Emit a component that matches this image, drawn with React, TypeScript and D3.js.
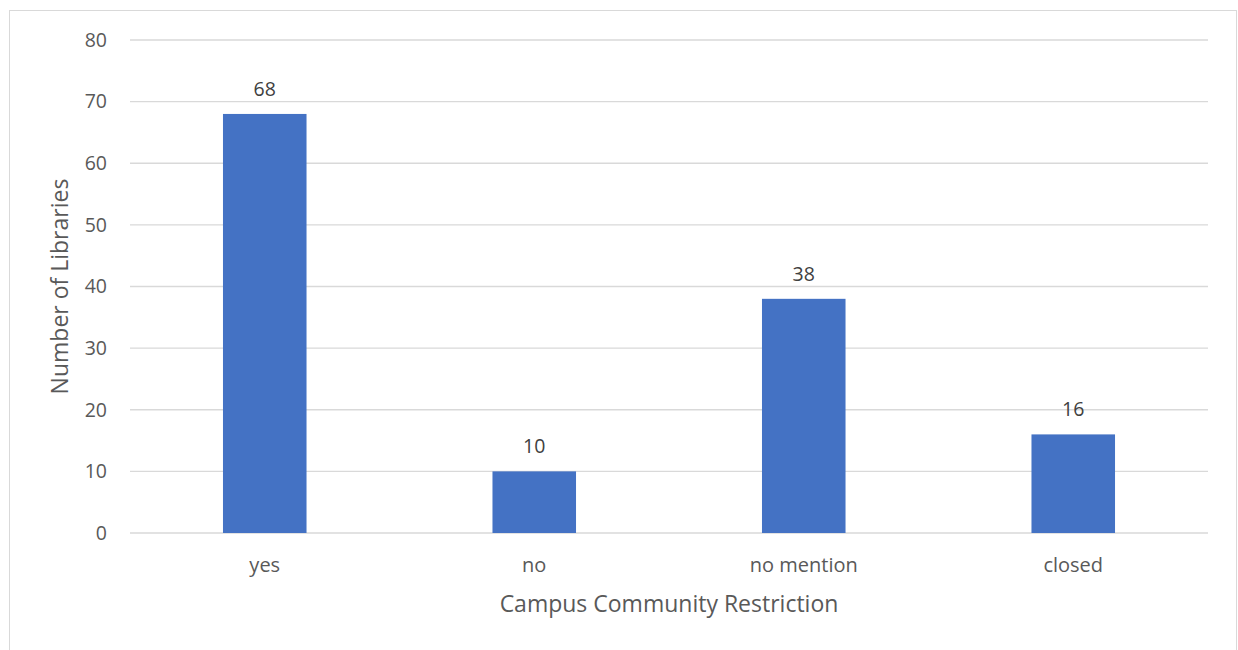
import React from "react";
import * as d3 from "d3";

const categories: string[] = ["yes", "no", "no mention", "closed"];
const libraryCounts: number[] = [68, 10, 38, 16];
const yTicks: number[] = [0, 10, 20, 30, 40, 50, 60, 70, 80];
const xTitle = "Campus Community Restriction";
const yTitle = "Number of Libraries";

const W = 1238;
const H = 650;
const plot = { left: 130, right: 1208, top: 40, bottom: 533 };
const font = "'Open Sans', Calibri, sans-serif";
const textColor = "#595959";

export default function App() {
  const x = d3
    .scaleBand<string>()
    .domain(categories)
    .range([plot.left, plot.right])
    .paddingInner(0.69)
    .paddingOuter(0.345);
  const y = d3.scaleLinear().domain([0, 80]).range([plot.bottom, plot.top]);

  return (
    <svg
      width={W}
      height={H}
      style={{ position: "absolute", left: 0, top: 0, background: "#fff" }}
    >
      <rect x={9.5} y={10.5} width={1227} height={660} fill="#fff" stroke="#d9d9d9" strokeWidth={1} />
      {yTicks.map((t) => (
        <g key={t}>
          <line x1={plot.left} x2={plot.right} y1={y(t)} y2={y(t)} stroke="#d9d9d9" strokeWidth={1.3} />
          <text
            x={107}
            y={y(t)}
            dy="0.35em"
            textAnchor="end"
            fontFamily={font}
            fontSize={19.5}
            fill={textColor}
          >
            {t}
          </text>
        </g>
      ))}
      {categories.map((c, i) => {
        const bx = x(c)!;
        const bw = x.bandwidth();
        const v = libraryCounts[i];
        return (
          <g key={c}>
            <rect x={bx} y={y(v)} width={bw} height={y(0) - y(v)} fill="#4472c4" />
            <text
              x={bx + bw / 2}
              y={y(v) - 18}
              textAnchor="middle"
              fontFamily={font}
              fontSize={19.5}
              fill="#404040"
            >
              {v}
            </text>
            <text
              x={bx + bw / 2}
              y={572}
              textAnchor="middle"
              fontFamily={font}
              fontSize={20}
              fill={textColor}
            >
              {c}
            </text>
          </g>
        );
      })}
      <text
        x={(plot.left + plot.right) / 2}
        y={612}
        textAnchor="middle"
        fontFamily={font}
        fontSize={23}
        fill={textColor}
      >
        {xTitle}
      </text>
      <text
        transform={`translate(68, ${(plot.top + plot.bottom) / 2}) rotate(-90)`}
        textAnchor="middle"
        fontFamily={font}
        fontSize={23}
        fill={textColor}
      >
        {yTitle}
      </text>
    </svg>
  );
}
